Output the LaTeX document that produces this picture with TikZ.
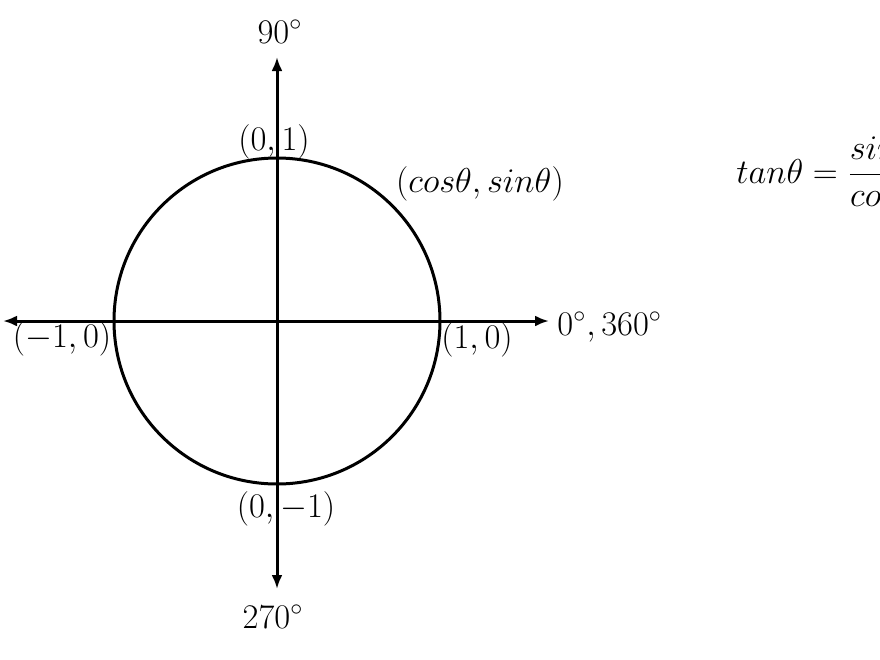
\documentclass[tikz,border=0pt]{standalone}
\usetikzlibrary{arrows.meta, positioning}
\begin{document}
\begin{tikzpicture}[x=0.5pt, y=-0.5pt,
    axis/.style={line width=1.5pt, {Latex[length=7pt,width=5.5pt]}-{Latex[length=7pt,width=5.5pt]}},
    lbl/.style={font=\fontsize{17.5}{21}\selectfont, inner sep=0pt}]
            \useasboundingbox (0,0) rectangle (880,660);
            \clip (0,0) rectangle (880,660);

            \coordinate (O) at (277,321);
            \coordinate (W) at (3,321);
            \coordinate (E) at (549,321);
            \coordinate (N) at (277,57);
            \coordinate (S) at (277,589);

            \draw[axis] (W) -- (E);
            \draw[axis] (N) -- (S);
            \draw[line width=1.5pt] (O) circle[radius=163];

            \node[lbl, anchor=base] (deg90) at (280,43) {$90^{\circ}$};
            \node[lbl, anchor=base] (top) at (274,150) {$(0,1)$};
            \node[lbl, anchor=base] (point) at (480,192) {$(cos\theta, sin\theta)$};
            \node[lbl, anchor=base] (left) at (62,347) {$(-1,0)$};
            \node[lbl, anchor=base] (right) at (477,348) {$(1,0)$};
            \node[lbl, anchor=base west] (deg0) at (557,335) {$0^{\circ}, 360^{\circ}$};
            \node[lbl, anchor=base] (bottom) at (286,517) {$(0,-1)$};
            \node[lbl, anchor=base] (deg270) at (273,628) {$270^{\circ}$};

            \node[lbl, anchor=base west] (tan) at (736,183) {$tan\theta = \displaystyle\frac{sin\theta}{cos\theta}$};
        \end{tikzpicture}
\end{document}
